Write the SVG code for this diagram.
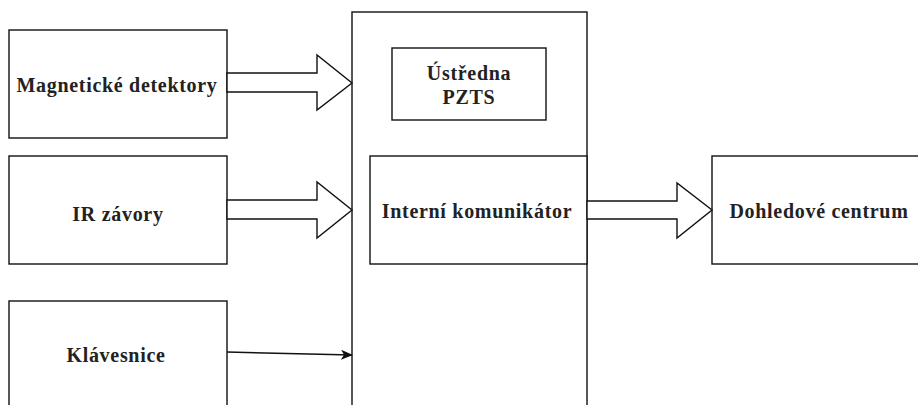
<svg xmlns="http://www.w3.org/2000/svg" width="918" height="405" viewBox="0 0 918 405">
  <style>
    .box { fill: #ffffff; stroke: #111111; stroke-width: 1.4; }
    .lbl { font-family: 'Liberation Serif', 'Times New Roman', 'DejaVu Serif', serif; font-weight: bold; font-size: 20px; letter-spacing: 0.7px; fill: #222222; text-anchor: middle; }
    .fat { fill: #ffffff; stroke: #111111; stroke-width: 1.4; stroke-linejoin: miter; }
    .thin { fill: none; stroke: #111111; stroke-width: 1.5; }
  </style>
  <defs>
    <marker id="tri" markerWidth="12" markerHeight="10" refX="11" refY="5" orient="auto" markerUnits="userSpaceOnUse">
      <path d="M0,0 L12,5 L0,10 L3,5 Z" fill="#111111"/>
    </marker>
  </defs>
  <rect width="918" height="405" fill="#ffffff"/>

  <g id="ustredna-frame">
    <rect class="box" x="352" y="12" width="235" height="410"/>
  </g>

  <g id="magneticke-detektory">
    <rect class="box" x="9" y="30" width="218" height="108"/>
    <text class="lbl" x="117" y="92">Magnetické detektory</text>
  </g>

  <g id="ir-zavory">
    <rect class="box" x="9" y="156" width="218" height="108"/>
    <text class="lbl" x="118" y="221">IR závory</text>
  </g>

  <g id="klavesnice">
    <rect class="box" x="9" y="301" width="218" height="120"/>
    <text class="lbl" x="116" y="362">Klávesnice</text>
  </g>

  <g id="ustredna-pzts">
    <rect class="box" x="392" y="48" width="154" height="72"/>
    <text class="lbl" x="469" y="80">Ústředna</text>
    <text class="lbl" x="469" y="104">PZTS</text>
  </g>

  <g id="interni-komunikator">
    <rect class="box" x="370" y="156" width="217" height="108"/>
    <text class="lbl" x="477" y="218">Interní komunikátor</text>
  </g>

  <g id="dohledove-centrum">
    <rect class="box" x="712" y="156" width="220" height="108"/>
    <text class="lbl" x="819" y="218">Dohledové centrum</text>
  </g>

  <g id="connectors">
    <path class="fat" d="M227,73 L317,73 L317,55 L352,83 L317,110 L317,92 L227,92 Z"/>
    <path class="fat" d="M227,200 L317,200 L317,182 L352,210 L317,238 L317,219 L227,219 Z"/>
    <path class="fat" d="M587,201 L677,201 L677,183 L712,210 L677,238 L677,219 L587,219 Z"/>
    <line class="thin" x1="227" y1="352" x2="352" y2="355" marker-end="url(#tri)"/>
  </g>
</svg>
